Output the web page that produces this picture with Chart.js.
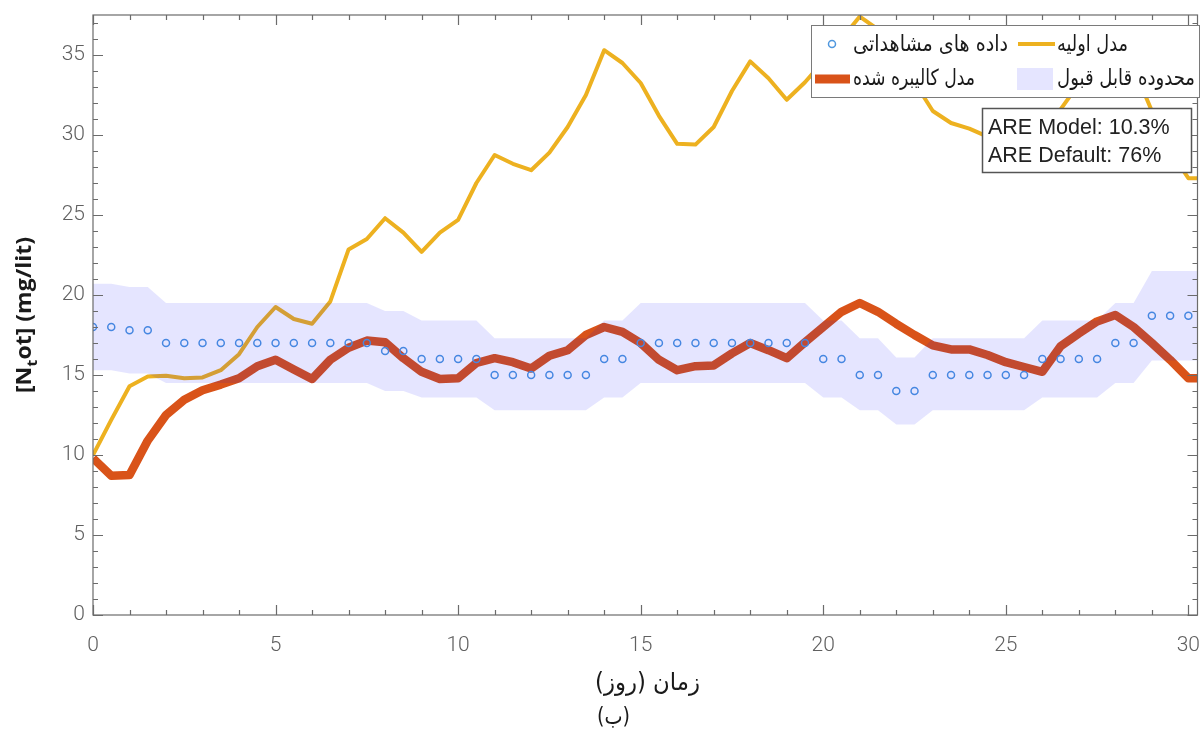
<!DOCTYPE html>
<html>
<head>
<meta charset="utf-8">
<script src="https://cdn.jsdelivr.net/npm/chart.js@4.4.0/dist/chart.umd.min.js"></script>
<style>
  html, body { margin: 0; padding: 0; background: #fff; }
  #wrap { width: 1203px; height: 731px; }
</style>
</head>
<body>
<div id="wrap"><canvas id="myChart" width="1203" height="731"></canvas></div>
<script>
// time in days (every half day)
var days = [0, 0.5, 1, 1.5, 2, 2.5, 3, 3.5, 4, 4.5, 5, 5.5, 6, 6.5, 7, 7.5, 8, 8.5, 9, 9.5,
            10, 10.5, 11, 11.5, 12, 12.5, 13, 13.5, 14, 14.5, 15, 15.5, 16, 16.5, 17, 17.5, 18, 18.5, 19, 19.5,
            20, 20.5, 21, 21.5, 22, 22.5, 23, 23.5, 24, 24.5, 25, 25.5, 26, 26.5, 27, 27.5, 28, 28.5, 29, 29.5,
            30, 30.5];

// observed data (circles), ends at day 30
var observed = [18, 18, 17.8, 17.8,
                17, 17, 17, 17, 17, 17, 17, 17, 17, 17, 17, 17,
                16.5, 16.5, 16, 16, 16, 16,
                15, 15, 15, 15, 15, 15,
                16, 16,
                17, 17, 17, 17, 17, 17, 17, 17, 17, 17,
                16, 16, 15, 15, 14, 14,
                15, 15, 15, 15, 15, 15,
                16, 16, 16, 16, 17, 17,
                18.7, 18.7, 18.7];

// default (initial) model
var initialModel = [10, 12.2, 14.3, 14.9, 14.95, 14.8, 14.85, 15.3, 16.3, 18.0,
                    19.25, 18.5, 18.2, 19.6, 22.85, 23.5, 24.8, 23.9, 22.7, 23.9,
                    24.7, 27.0, 28.75, 28.2, 27.8, 28.9, 30.5, 32.5, 35.3, 34.5,
                    33.25, 31.2, 29.45, 29.4, 30.5, 32.75, 34.6, 33.55, 32.2, 33.3,
                    34.6, 36.0, 37.4, 36.6, 35.0, 33.3, 31.5, 30.75, 30.4, 29.9,
                    29.7, 29.8, 30.3, 31.6, 33.2, 34.8, 35.3, 34.2, 31.5, 29.0,
                    27.3, 27.3];

// calibrated model
var calibratedModel = [9.8, 8.7, 8.75, 10.9, 12.5, 13.45, 14.05, 14.4, 14.8, 15.55,
                       15.95, 15.35, 14.75, 15.95, 16.7, 17.15, 17.05, 16.05, 15.2, 14.75,
                       14.8, 15.75, 16.05, 15.8, 15.4, 16.2, 16.55, 17.5, 18.0, 17.7,
                       17.0, 15.95, 15.3, 15.55, 15.6, 16.35, 17.0, 16.55, 16.05, 17.05,
                       18.0, 18.95, 19.5, 18.95, 18.2, 17.5, 16.85, 16.6, 16.6, 16.25,
                       15.8, 15.5, 15.2, 16.8, 17.6, 18.35, 18.75, 18.0, 17.0, 15.95,
                       14.8, 14.8];

// acceptable range (upper / lower edge)
var bandUpper = [20.7, 20.7, 20.5, 20.5,
                 19.5, 19.5, 19.5, 19.5, 19.5, 19.5, 19.5, 19.5, 19.5, 19.5, 19.5, 19.5,
                 19.0, 19.0, 18.4, 18.4, 18.4, 18.4,
                 17.3, 17.3, 17.3, 17.3, 17.3, 17.3,
                 18.4, 18.4,
                 19.5, 19.5, 19.5, 19.5, 19.5, 19.5, 19.5, 19.5, 19.5, 19.5,
                 18.4, 18.4, 17.3, 17.3, 16.1, 16.1,
                 17.3, 17.3, 17.3, 17.3, 17.3, 17.3,
                 18.4, 18.4, 18.4, 18.4, 19.5, 19.5,
                 21.5, 21.5, 21.5, 21.5];
var bandLower = [15.3, 15.3, 15.1, 15.1,
                 14.5, 14.5, 14.5, 14.5, 14.5, 14.5, 14.5, 14.5, 14.5, 14.5, 14.5, 14.5,
                 14.0, 14.0, 13.6, 13.6, 13.6, 13.6,
                 12.8, 12.8, 12.8, 12.8, 12.8, 12.8,
                 13.6, 13.6,
                 14.5, 14.5, 14.5, 14.5, 14.5, 14.5, 14.5, 14.5, 14.5, 14.5,
                 13.6, 13.6, 12.8, 12.8, 11.9, 11.9,
                 12.8, 12.8, 12.8, 12.8, 12.8, 12.8,
                 13.6, 13.6, 13.6, 13.6, 14.5, 14.5,
                 15.9, 15.9, 15.9, 15.9];

var xTickLabels = [0, 5, 10, 15, 20, 25, 30];
var yTickLabels = [0, 5, 10, 15, 20, 25, 30, 35];

var legendLabels = ['داده های مشاهداتی', 'مدل اولیه', 'مدل کالیبره شده', 'محدوده قابل قبول'];
var statLines = ['ARE Model: 10.3%', 'ARE Default: 76%'];

var colObs = '#4f97de';
var colInit = '#EDB120';
var colCal = '#D95319';
var colBand = 'rgba(0, 0, 255, 0.1)';

function toPoints(arr) {
    var pts = [];
    for (var i = 0; i < arr.length; i++) {
        pts.push({ x: days[i], y: arr[i] });
    }
    return pts;
}

// draws persian text at a left position and squeezes it to a given width
function persianText(ctx, txt, left, midY, width, size) {
    ctx.save();
    ctx.font = size + 'px "DejaVu Sans", sans-serif';
    ctx.direction = 'rtl';
    ctx.textAlign = 'left';
    ctx.textBaseline = 'middle';
    ctx.fillStyle = '#1a1a1a';
    var w = ctx.measureText(txt).width;
    ctx.translate(left, midY);
    if (width) ctx.scale(width / w, 1);
    ctx.fillText(txt, 0, 0);
    ctx.restore();
}

var decorations = {
    id: 'decorations',
    afterDraw: function (chart) {
        var ctx = chart.ctx;
        var xs = chart.scales.x, ys = chart.scales.y;
        var a = chart.chartArea;

        // frame + inward ticks
        ctx.save();
        ctx.strokeStyle = '#6b6b6b';
        ctx.lineWidth = 1.2;
        ctx.strokeRect(a.left, a.top, a.right - a.left, a.bottom - a.top);
        ctx.beginPath();
        for (var v = 0; v <= 30; v++) {
            var px = Math.round(xs.getPixelForValue(v)) + 0.5;
            var len = v % 5 === 0 ? 10 : 5;
            ctx.moveTo(px, a.bottom); ctx.lineTo(px, a.bottom - len);
            ctx.moveTo(px, a.top); ctx.lineTo(px, a.top + len);
        }
        for (var u = 0; u <= 37; u++) {
            var py = Math.round(ys.getPixelForValue(u)) + 0.5;
            var l2 = u % 5 === 0 ? 10 : 5;
            ctx.moveTo(a.left, py); ctx.lineTo(a.left + l2, py);
            ctx.moveTo(a.right, py); ctx.lineTo(a.right - l2, py);
        }
        ctx.stroke();
        ctx.restore();

        // y axis title with subscript, fitted to the reference length
        ctx.save();
        ctx.translate(25, (a.top + a.bottom) / 2);
        ctx.rotate(-Math.PI / 2);
        ctx.fillStyle = '#1a1a1a';
        ctx.textBaseline = 'middle';
        ctx.textAlign = 'left';
        var big = 'bold 21px "Open Sans", Roboto, sans-serif';
        var small = 'bold 15px "Open Sans", Roboto, sans-serif';
        ctx.font = big;
        var w1 = ctx.measureText('[N').width;
        var w3 = ctx.measureText('ot] (mg/lit)').width;
        ctx.font = small;
        var w2 = ctx.measureText('t').width;
        var tot = w1 + w2 + w3;
        ctx.scale(156 / tot, 1);
        var x0 = -tot / 2;
        ctx.font = big;
        ctx.fillText('[N', x0, 0);
        ctx.font = small;
        ctx.fillText('t', x0 + w1, 8);
        ctx.font = big;
        ctx.fillText('ot] (mg/lit)', x0 + w1 + w2, 0);
        ctx.restore();

        // x axis title and caption
        persianText(ctx, 'زمان (روز)', 595, 684, 105, 24);
        persianText(ctx, '(ب)', 597, 718, 33, 23);

        // legend box
        ctx.save();
        ctx.fillStyle = '#fff';
        ctx.fillRect(811, 25, 389, 72);
        ctx.strokeStyle = '#7a7a7a';
        ctx.lineWidth = 1;
        ctx.strokeRect(811.5, 25.5, 388, 72);
        ctx.beginPath();
        ctx.arc(832, 44, 3.5, 0, Math.PI * 2);
        ctx.strokeStyle = colObs;
        ctx.lineWidth = 1.5;
        ctx.stroke();
        ctx.beginPath();
        ctx.moveTo(1018, 44); ctx.lineTo(1055, 44);
        ctx.strokeStyle = colInit;
        ctx.lineWidth = 4;
        ctx.stroke();
        ctx.beginPath();
        ctx.moveTo(815, 79); ctx.lineTo(850, 79);
        ctx.strokeStyle = colCal;
        ctx.lineWidth = 9;
        ctx.stroke();
        ctx.fillStyle = colBand;
        ctx.fillRect(1017, 68, 36, 22);
        ctx.restore();
        persianText(ctx, legendLabels[0], 853, 45, 155, 22);
        persianText(ctx, legendLabels[1], 1057, 45, 71, 22);
        persianText(ctx, legendLabels[2], 853, 79, 122, 22);
        persianText(ctx, legendLabels[3], 1057, 79, 138, 22);

        // statistics box
        ctx.save();
        ctx.fillStyle = '#fff';
        ctx.fillRect(982, 108, 210, 65);
        ctx.strokeStyle = '#555';
        ctx.lineWidth = 1.5;
        ctx.strokeRect(982.5, 108.5, 209, 64);
        ctx.fillStyle = '#222';
        ctx.font = '21.5px "Liberation Sans", Arial, sans-serif';
        ctx.textBaseline = 'middle';
        ctx.textAlign = 'left';
        ctx.fillText(statLines[0], 988, 128);
        ctx.fillText(statLines[1], 988, 156);
        ctx.restore();
    }
};

var ctx = document.getElementById('myChart').getContext('2d');
var myChart = new Chart(ctx, {
    type: 'line',
    data: {
        datasets: [{
            label: legendLabels[3],
            data: toPoints(bandUpper),
            borderWidth: 0,
            pointRadius: 0,
            backgroundColor: colBand,
            fill: '+1',
            order: 0
        }, {
            label: 'lower',
            data: toPoints(bandLower),
            borderWidth: 0,
            pointRadius: 0,
            fill: false,
            order: 1
        }, {
            label: legendLabels[0],
            data: toPoints(observed),
            showLine: false,
            pointStyle: 'circle',
            pointRadius: 3.5,
            pointBorderWidth: 1.5,
            pointBorderColor: colObs,
            pointBackgroundColor: 'rgba(0,0,0,0)',
            order: 2
        }, {
            label: legendLabels[2],
            data: toPoints(calibratedModel),
            borderColor: colCal,
            borderWidth: 8.5,
            borderJoinStyle: 'round',
            pointRadius: 0,
            fill: false,
            order: 3
        }, {
            label: legendLabels[1],
            data: toPoints(initialModel),
            borderColor: colInit,
            borderWidth: 4,
            borderJoinStyle: 'round',
            pointRadius: 0,
            fill: false,
            order: 4
        }]
    },
    options: {
        responsive: false,
        animation: false,
        devicePixelRatio: 1,
        layout: { padding: { top: 15, right: 3, left: 0, bottom: 0 } },
        plugins: {
            legend: { display: false },
            tooltip: { enabled: false }
        },
        scales: {
            x: {
                type: 'linear',
                min: 0,
                max: 30.25,
                afterBuildTicks: function (scale) {
                    scale.ticks = xTickLabels.map(function (v) { return { value: v }; });
                },
                afterFit: function (scale) {
                    scale.height = 116;
                    scale.paddingLeft = 0;
                    scale.paddingRight = 0;
                },
                grid: { display: false, drawTicks: false },
                border: { display: false },
                ticks: {
                    color: '#606060',
                    font: { family: 'Roboto', size: 21, weight: 300 },
                    padding: 18,
                    maxRotation: 0,
                    autoSkip: false
                }
            },
            y: {
                min: 0,
                max: 37.5,
                afterBuildTicks: function (scale) {
                    scale.ticks = yTickLabels.map(function (v) { return { value: v }; });
                },
                afterFit: function (scale) {
                    scale.width = 93;
                    scale.paddingTop = 0;
                    scale.paddingBottom = 0;
                },
                grid: { display: false, drawTicks: false },
                border: { display: false },
                ticks: {
                    color: '#606060',
                    font: { family: 'Roboto', size: 21, weight: 300 },
                    padding: 8,
                    autoSkip: false
                }
            }
        }
    },
    plugins: [decorations]
});
</script>
</body>
</html>
